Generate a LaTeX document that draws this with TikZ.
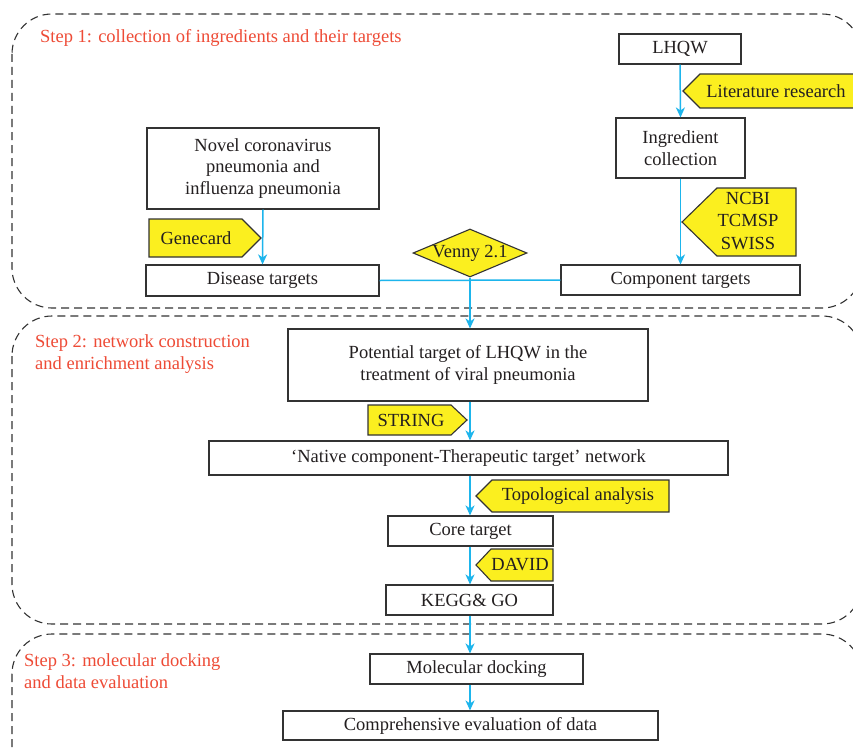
\documentclass[tikz,border=0pt]{standalone}
\usepackage{fontspec}
\setmainfont{Liberation Serif}
\usetikzlibrary{arrows.meta,shapes.geometric}
\definecolor{stepred}{HTML}{EE4B36}
\definecolor{tagyellow}{HTML}{FBEF1F}
\definecolor{flowblue}{HTML}{1DB5EC}
\definecolor{ink}{HTML}{333333}
\definecolor{txt}{HTML}{231F20}
\begin{document}
\begin{tikzpicture}[x=1pt,y=-1pt,
  every node/.style={font=\fontsize{18.5}{21.5}\selectfont, text=txt},
  box/.style={draw=ink, line width=1.1pt, fill=white, inner sep=0pt, align=center},
  tagshape/.style={draw=ink, line width=1.1pt, fill=tagyellow},
  tagtext/.style={inner sep=0pt, align=center, font=\fontsize{18.5}{22.5}\selectfont},
  flow/.style={draw=flowblue, line width=1.5pt, -{Stealth[length=10pt,width=9pt,inset=3pt]}},
  link/.style={draw=flowblue, line width=1.5pt},
  group/.style={draw=ink, line width=1.1pt, dash pattern=on 8pt off 5pt, rounded corners=40pt},
  steplabel/.style={text=stepred, anchor=west, align=left, inner sep=0pt, font=\fontsize{18.5}{22}\selectfont},
]
\clip (0,0) rectangle (853,749);
\fill[white] (0,0) rectangle (853,749);

% groups
\draw[group] (12,14) rectangle (862,308);
\draw[group] (12,316) rectangle (862,624);
\draw[group] (12,634) rectangle (862,800);

% step labels
\node[steplabel] (s1) at (40,38) {Step 1: collection of ingredients and their targets};
\node[steplabel] (s2) at (35,354) {Step 2: network construction\\and enrichment analysis};
\node[steplabel] (s3) at (24,671) {Step 3: molecular docking\\and data evaluation};

% step 1 boxes
\node[box, minimum width=232pt, minimum height=81pt] (novel) at (263,168.5) {Novel coronavirus\\pneumonia and\\influenza pneumonia};
\node[box, minimum width=233pt, minimum height=31pt] (disease) at (262.5,280.5) {Disease targets};
\node[box, minimum width=122pt, minimum height=30pt] (lhqw) at (680,49) {LHQW};
\node[box, minimum width=129pt, minimum height=60pt] (ingr) at (680.5,148) {Ingredient\\collection};
\node[box, minimum width=239pt, minimum height=30pt] (comp) at (680.5,280) {Component targets};

% step 2 / 3 boxes
\node[box, minimum width=360pt, minimum height=72pt] (pot) at (468,365) {Potential target of LHQW in the\\treatment of viral pneumonia};
\node[box, minimum width=519pt, minimum height=34pt] (native) at (468.5,458) {`Native component-Therapeutic target' network};
\node[box, minimum width=165pt, minimum height=30pt] (core) at (470.5,531) {Core target};
\node[box, minimum width=167pt, minimum height=30pt] (kegg) at (469.5,600) {KEGG\& GO};
\node[box, minimum width=213pt, minimum height=30pt] (mol) at (476.5,669) {Molecular docking};
\node[box, minimum width=375pt, minimum height=29pt] (eval) at (470.5,725.5) {Comprehensive evaluation of data};

% tags
\draw[tagshape] (149,219) -- (242,219) -- (261,238) -- (242,257) -- (149,257) -- cycle;
\node[tagtext] (genecard) at (196,238) {Genecard};
\draw[tagshape] (700,74) -- (870,74) -- (870,108) -- (700,108) -- (683,91) -- cycle;
\node[tagtext] (lit) at (776,91) {Literature research};
\draw[tagshape] (717,188) -- (796,188) -- (796,256) -- (717,256) -- (682,222) -- cycle;
\node[tagtext] (db) at (748,221) {NCBI\\TCMSP\\SWISS};
\draw[tagshape] (368,405) -- (451,405) -- (467,420) -- (451,435) -- (368,435) -- cycle;
\node[tagtext] (string) at (411,420) {STRING};
\draw[tagshape] (492,480) -- (669,480) -- (669,512) -- (492,512) -- (476,496) -- cycle;
\node[tagtext] (topo) at (578,496) {Topological analysis};
\draw[tagshape] (491,549) -- (553,549) -- (553,581) -- (491,581) -- (476,565) -- cycle;
\node[tagtext] (david) at (520,565) {DAVID};
\node[diamond, draw=ink, line width=1.1pt, fill=tagyellow, inner sep=0pt, aspect=2.4,
      minimum width=114pt, minimum height=48pt] (venny) at (470,253) {Venny 2.1};

% connectors
\coordinate (vx) at (470,0);
\draw[flow] (novel.south) -- (disease.north);
\draw[flow] (lhqw.south) -- (ingr.north);
\draw[flow] (ingr.south) -- (comp.north);
\draw[link] (disease.east) -- (comp.west);
\draw[flow] (venny.south) -- (pot.north -| venny.south);
\draw[flow] (pot.south -| vx) -- (native.north -| vx);
\draw[flow] (native.south -| vx) -- (core.north -| vx);
\draw[flow] (core.south -| vx) -- (kegg.north -| vx);
\draw[flow] (kegg.south -| vx) -- (mol.north -| vx);
\draw[flow] (mol.south -| vx) -- (eval.north -| vx);
\end{tikzpicture}
\end{document}
